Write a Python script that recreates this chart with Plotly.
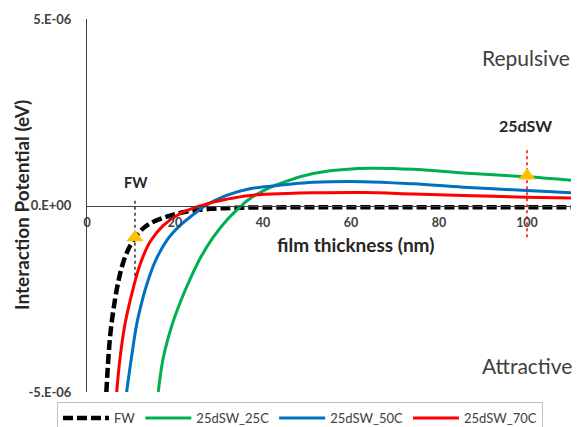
import numpy as np
import plotly.graph_objects as go

# ---- data (film thickness in nm, potential in units of 1e-6 eV) ----
fw_x = [4.4, 4.85, 5.3, 6.0, 7.1, 8.3, 9.8, 12.0, 14.3, 18.1, 21.9, 28.0, 34.8, 45, 60, 80, 100, 110]
fw_y = [-5.0, -4.1, -3.45, -2.8, -2.05, -1.5, -1.08, -0.70, -0.48, -0.30, -0.18, -0.09, -0.06, -0.05, -0.05, -0.05, -0.05, -0.05]

sw25_x = [16.2, 17.3, 19.2, 21.1, 23.4, 25.7, 28.7, 31.7, 34.8, 36.3, 38.6, 42.3, 46.1, 48.4, 55.2, 64.3, 74.2, 85.5, 100, 110]
sw25_y = [-5.0, -4.1, -3.25, -2.62, -1.98, -1.42, -0.85, -0.40, -0.04, 0.12, 0.30, 0.52, 0.68, 0.77, 0.93, 1.0, 0.97, 0.87, 0.77, 0.68]

sw50_x = [9.0, 10.1, 11.3, 12.4, 13.5, 15.5, 18.1, 21.1, 24.2, 26.4, 28.0, 31.7, 37.0, 45.4, 51.4, 62.8, 74.2, 85.5, 100, 110]
sw50_y = [-5.0, -4.08, -3.18, -2.62, -2.15, -1.5, -0.94, -0.54, -0.24, -0.04, 0.07, 0.27, 0.45, 0.56, 0.62, 0.64, 0.58, 0.49, 0.40, 0.34]

sw70_x = [6.75, 7.5, 8.6, 9.4, 10.5, 12.0, 14.3, 17.3, 21.1, 24.9, 26.4, 28.7, 31.7, 37.0, 45.4, 51.4, 62.8, 74.2, 85.5, 100, 110]
sw70_y = [-5.0, -4.1, -3.2, -2.75, -2.22, -1.6, -0.98, -0.54, -0.22, -0.04, 0.01, 0.09, 0.17, 0.27, 0.32, 0.34, 0.35, 0.31, 0.27, 0.22, 0.20]

series_names = ["FW", "25dSW_25C", "25dSW_50C", "25dSW_70C"]

# marker points and guide lines
fw_mark_x, fw_mark_y = [10.9], [-0.86]
sw_mark_x, sw_mark_y = [100], [0.80]
fw_guide_x, fw_guide_y = [10.9, 10.9], [0.13, -1.93]
sw_guide_x, sw_guide_y = [100, 100], [1.48, -0.86]

y_tickvals = [-5e-6, 0, 5e-6]
y_ticktext = ["-5.E-06", "0.E+00", "5.E-06"]
x_tickvals = [0, 20, 40, 60, 80, 100]

SCALE = 1e-6
def sc(v):
    return (np.array(v) * SCALE).tolist()

FONT = "Lato"
GREY = "#404040"

fig = go.Figure()

fig.add_trace(go.Scatter(x=fw_x, y=sc(fw_y), name=series_names[0], mode="lines",
                         line=dict(color="black", width=4.5, dash="10px,4px", shape="spline")))
fig.add_trace(go.Scatter(x=sw25_x, y=sc(sw25_y), name=series_names[1], mode="lines",
                         line=dict(color="#00B050", width=3, shape="spline")))
fig.add_trace(go.Scatter(x=sw50_x, y=sc(sw50_y), name=series_names[2], mode="lines",
                         line=dict(color="#0070C0", width=3, shape="spline")))
fig.add_trace(go.Scatter(x=sw70_x, y=sc(sw70_y), name=series_names[3], mode="lines",
                         line=dict(color="#FF0000", width=3, shape="spline")))

fig.add_trace(go.Scatter(x=fw_guide_x, y=sc(fw_guide_y), mode="lines", showlegend=False,
                         line=dict(color="black", width=1.2, dash="dot")))
fig.add_trace(go.Scatter(x=sw_guide_x, y=sc(sw_guide_y), mode="lines", showlegend=False,
                         line=dict(color="#FF0000", width=1.5, dash="dot")))
fig.add_trace(go.Scatter(x=fw_mark_x, y=sc(fw_mark_y), mode="markers", showlegend=False,
                         marker=dict(symbol="triangle-up", size=15, color="#FFC000")))
fig.add_trace(go.Scatter(x=sw_mark_x, y=sc(sw_mark_y), mode="markers", showlegend=False,
                         marker=dict(symbol="triangle-up", size=15, color="#FFC000")))

fig.update_layout(
    width=578, height=427,
    margin=dict(l=87, r=7, t=19, b=35, autoexpand=False),
    paper_bgcolor="white", plot_bgcolor="white",
    font=dict(family=FONT, color=GREY),
    showlegend=True,
    legend=dict(orientation="h", x=-0.062, xanchor="left", y=-0.027, yanchor="top",
                bordercolor="#BFBFBF", borderwidth=1, font=dict(size=13, color=GREY),
                itemwidth=46),
    xaxis=dict(range=[0, 110], tickvals=x_tickvals, showgrid=False, zeroline=False,
               showline=True, linecolor="#404040", linewidth=1, ticks="",
               anchor="free", position=0.5, ticklabelstandoff=5,
               tickfont=dict(family=FONT, size=12.5, color=GREY, weight="bold")),
    yaxis=dict(range=[-5e-6, 5e-6], tickvals=y_tickvals, ticktext=y_ticktext,
               showgrid=False, zeroline=False, showline=True, linecolor="#404040",
               linewidth=1, ticks="", domain=[0, 1], ticklabelstandoff=12,
               tickfont=dict(family=FONT, size=13, color=GREY, weight="bold")),
)

def ann(text, xp, yp, size, bold=False, angle=0):
    fig.add_annotation(text=text, xref="paper", yref="paper",
                       x=(xp - 87) / 484, y=(392 - yp) / 373,
                       xanchor="center", yanchor="middle",
                       showarrow=False, textangle=angle,
                       font=dict(family=FONT, size=size, color=GREY if not bold else "#262626",
                                 weight="bold" if bold else "normal"))

ann("film thickness (nm)", 355, 245, 19, bold=True)
ann("Interaction Potential (eV)", 21, 205, 19, bold=True, angle=-90)
ann("Repulsive", 526, 58, 21)
ann("Attractive", 527, 365, 21)
ann("FW", 136, 183, 14.5, bold=True)
ann("25dSW", 525, 126, 16, bold=True)

fig.write_html("out.html", config={"displayModeBar": False},
               post_script="document.body.style.margin='0px';document.body.style.overflow='hidden';")
